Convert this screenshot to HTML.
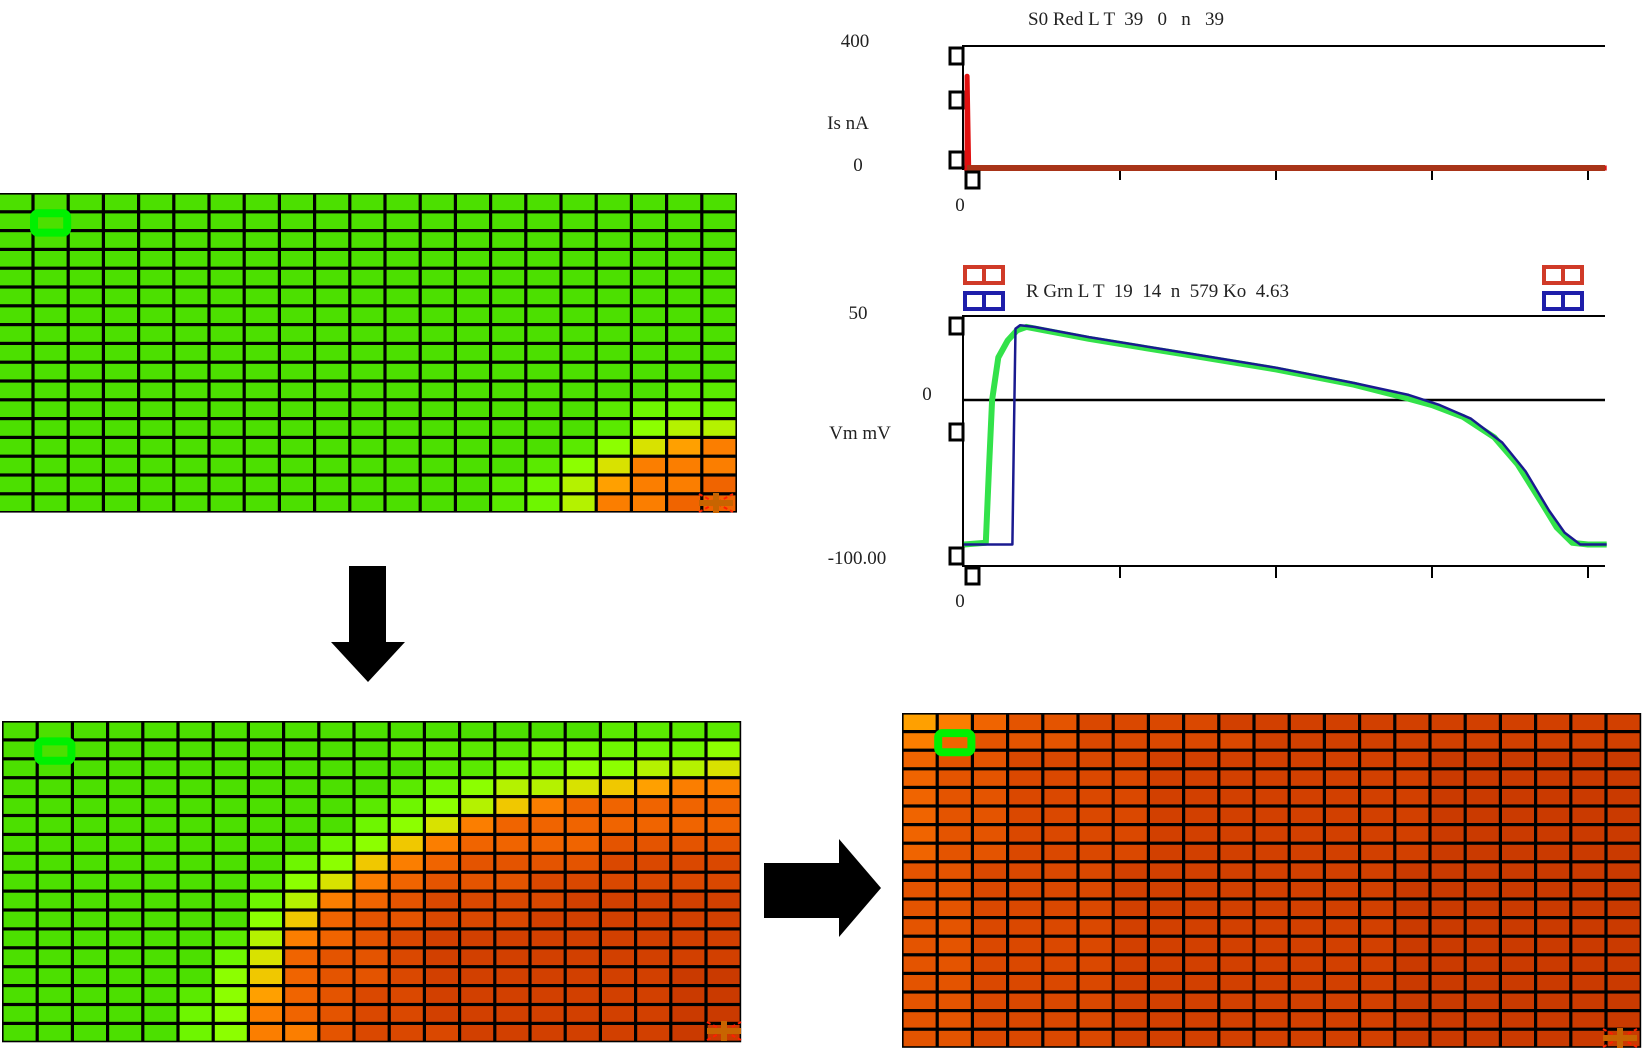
<!DOCTYPE html>
<html><head><meta charset="utf-8"><style>
html,body{margin:0;padding:0;background:#fff;}
svg{display:block;}
text{font-family:"Liberation Serif",serif;fill:#222;}
</style></head><body>
<svg id="root" width="1645" height="1049" viewBox="0 0 1645 1049" xmlns="http://www.w3.org/2000/svg">
<g id="grids"></g>
<g id="arrows">
  <rect x="349" y="566" width="37" height="77" fill="#000"/>
  <polygon points="331,642 405,642 368,682" fill="#000"/>
  <rect x="764" y="863" width="76" height="55" fill="#000"/>
  <polygon points="839,839 839,937 881,888" fill="#000"/>
</g>
<g id="chart1">
  <text x="1028" y="25" font-size="19" style="white-space:pre">S0 Red L T  39   0   n   39</text>
  <text x="855" y="47" font-size="19" text-anchor="middle">400</text>
  <text x="848" y="129" font-size="19" text-anchor="middle">Is nA</text>
  <text x="858" y="171" font-size="19" text-anchor="middle">0</text>
  <text x="960" y="211" font-size="19" text-anchor="middle">0</text>
  <line x1="962" y1="46" x2="1605" y2="46" stroke="#000" stroke-width="2"/>
  <line x1="963" y1="46" x2="963" y2="170" stroke="#000" stroke-width="2"/>
</g>
<g id="chart2">
  <text x="1026" y="297" font-size="19" style="white-space:pre">R Grn L T  19  14  n  579 Ko  4.63</text>
  <text x="858" y="319" font-size="19" text-anchor="middle">50</text>
  <text x="927" y="400" font-size="19" text-anchor="middle">0</text>
  <text x="860" y="439" font-size="19" text-anchor="middle">Vm mV</text>
  <text x="857" y="564" font-size="19" text-anchor="middle">-100.00</text>
  <text x="960" y="607" font-size="19" text-anchor="middle">0</text>
  <line x1="962" y1="316" x2="1605" y2="316" stroke="#000" stroke-width="2"/>
  <line x1="963" y1="316" x2="963" y2="566" stroke="#000" stroke-width="2"/>
  <line x1="962" y1="566" x2="1605" y2="566" stroke="#000" stroke-width="2"/>
  <line x1="963" y1="400" x2="1605" y2="400" stroke="#000" stroke-width="2.5"/>
</g>
</svg>
<script>
// ---------- chart data ----------
const stimT = [0, 2, 2, 3, 412];
const stimV = [0, 0, 301, 0, 0];
const greenT = [0,14,16,18,22,28,34,40,80,140,200,250,280,300,320,340,355,370,380,390,400,412];
const greenV = [-85,-84,-40,0,25,35,41,43,36,27,18,9,2,-3,-10,-22,-38,-60,-75,-84,-85,-85];
const blueT = [0,31,32,33,36,45,80,140,200,250,285,305,325,345,360,375,385,395,405,412];
const blueV = [-85,-85,-20,42,44,43,37,28,19,10,3,-3,-11,-25,-42,-65,-78,-85,-85,-85];
const xTicks = [100, 200, 300, 400];

// ---------- grid data (level per cell) ----------
const gridTL = [
"000000000000000000000","000000000000000000000","000000000000000000000","000000000000000000000",
"000000000000000000000","000000000000000000000","000000000000000000000","000000000000000000000",
"000000000000000000000","000000000000000000000","000000000000000000011","000000000000000001222",
"000000000000000001344","000000000000000013578","000000000000000135888","000000000000001247889",
"000000000000001248899"];
const gridBL = [
"000000000000000001111","000000000001111222223","000000000000112233445","000000000001234456788",
"000000000012346899999","000000000023589999999","00000000023689999aaaa","0000000023689aaaabbbb",
"000000013589aaabbbbbb","00000002489abbbbccccc","0000000369aabbbcccccc","0000001489abccccccccc",
"000000259aabccccccccc","000000369aabcccccccdd","000001379abbcccccccdd","000002389abbcccccccdd",
"000002388abbbccccccdd"];
const gridBR = [
"789aabbbbcccccccccccc","89aaabbbbbccccccccccc","9aabbbbccccccccdddddd","9aabbbbccccccccdddddd",
"9aabbbbccccccccdddddd","9aabbbbccccccccdddddd","9aabbbbccccccccdddddd","9aabbbbccccccccdddddd",
"aabbbbccccccccddddddd","aabbbbccccccccddddddd","aabbbbccccccccddddddd","aabbbbccccccccddddddd",
"aabbbbccccccccddddddd","aabbbbccccccccddddddd","aabbbbccccccccddddddd","aabbbbccccccccddddddd",
"aabbbbccccccccddddddd","aabbbbccccccccddddddd"];
const levelColors = {"0":"#4ce000","1":"#5aea00","2":"#6ef600","3":"#8cff00","4":"#b4f200","5":"#d8e200",
"6":"#f0c800","7":"#ffa000","8":"#fb7e00","9":"#f06400","a":"#e45400","b":"#da4800","c":"#d24000","d":"#ca3a00"};

const NS = "http://www.w3.org/2000/svg";
function mk(tag, attrs, parent){const e=document.createElementNS(NS,tag);for(const k in attrs)e.setAttribute(k,attrs[k]);parent.appendChild(e);return e;}

// ---------- grids ----------
const gridsG = document.getElementById('grids');
function drawGrid(data, x0, y0, cw, rh, name, marker, plus){
  const g = mk('g', {}, gridsG);
  
  
  const rows = data.length, cols = data[0].length;
  const bg = mk('rect', {x:x0, y:y0, width:cols*cw, height:rows*rh, fill:'#000'}, g);
  
  
  for(let r=0;r<rows;r++){
    for(let c=0;c<cols;c++){
      const cell = mk('rect', {x:(x0+c*cw+1.6).toFixed(1), y:(y0+r*rh+1.6).toFixed(1), width:(cw-3.2).toFixed(1), height:(rh-3.2).toFixed(1), fill:levelColors[data[r][c]]}, g);
      
      
    }
  }
  const m = mk('rect', {x:x0+marker[0]*cw+1, y:y0+marker[1]*rh+1.5, width:cw-2, height:rh+0.5, rx:4, fill:'none', stroke:'#00f000', 'stroke-width':8}, g);
  
  
  const p = mk('g', {}, g);
  
  
  mk('line', {x1:plus[0]-17, y1:plus[1]-9, x2:plus[0]+17, y2:plus[1]+9, stroke:'#ff2000', 'stroke-width':2, 'stroke-dasharray':'4 3'}, p);
  mk('line', {x1:plus[0]-17, y1:plus[1]+9, x2:plus[0]+17, y2:plus[1]-9, stroke:'#ff2000', 'stroke-width':2, 'stroke-dasharray':'4 3'}, p);
  mk('rect', {x:plus[0]-17, y:plus[1]-3, width:34, height:6, fill:'#c86400'}, p);
  mk('rect', {x:plus[0]-3, y:plus[1]-10, width:6, height:20, fill:'#c86400'}, p);
}
drawGrid(gridTL, -2.2, 193, 35.2, 18.8, 'grid-early', [1,1], [716,503]);
drawGrid(gridBL, 2, 721, 35.2, 18.9, 'grid-mid', [1,1], [724,1031]);
drawGrid(gridBR, 902, 713, 35.2, 18.6, 'grid-late', [1,1], [1620,1038]);

// ---------- axes ----------
const xOf = t => 964 + t*1.56;
const yTop = v => 168 - v*(122/400);
const yBot = v => 400 - v*1.7;

const c1 = document.getElementById('chart1');
const c2 = document.getElementById('chart2');
function ticks(parent, yAxis){
  xTicks.forEach(t=>{
    const l = mk('line', {x1:xOf(t), y1:yAxis, x2:xOf(t), y2:yAxis+12, stroke:'#000', 'stroke-width':2}, parent);
    
    
  });
}
ticks(c1, 168); ticks(c2, 566);

// stimulus trace
const sp = mk('polyline', {points: stimT.map((t,i)=>xOf(t).toFixed(1)+','+yTop(stimV[i]).toFixed(1)).join(' '), fill:'none', stroke:'#e01010', 'stroke-width':5, 'stroke-linejoin':'round'}, c1);


const base = mk('line', {x1:967, y1:yTop(0), x2:1605, y2:yTop(0), stroke:'#a83418', 'stroke-width':6}, c1);



// Vm traces
const gl = mk('polyline', {points: greenT.map((t,i)=>xOf(t).toFixed(1)+','+yBot(greenV[i]).toFixed(1)).join(' '), fill:'none', stroke:'#33e24a', 'stroke-width':6, 'stroke-linejoin':'round'}, c2);


const bl = mk('polyline', {points: blueT.map((t,i)=>xOf(t).toFixed(1)+','+yBot(blueV[i]).toFixed(1)).join(' '), fill:'none', stroke:'#1a1a90', 'stroke-width':2.5, 'stroke-linejoin':'round'}, c2);



// axis handle squares
function sq(parent, x, y, name){
  const s = mk('rect', {x:x, y:y, width:13, height:16, fill:'#fff', stroke:'#000', 'stroke-width':3}, parent);
  
  
}
sq(c1, 950, 48, 'y-max-handle'); sq(c1, 950, 92, 'y-mid-handle'); sq(c1, 950, 152, 'y-min-handle'); sq(c1, 966, 172, 'x-min-handle');
sq(c2, 950, 318, 'y-max-handle'); sq(c2, 950, 424, 'y-mid-handle'); sq(c2, 950, 548, 'y-min-handle'); sq(c2, 966, 568, 'x-min-handle');

// legend icons
function icon(x, y, color, name){
  const g = mk('g', {}, c2);
  
  
  mk('rect', {x:x+2, y:y+2, width:38, height:16, fill:'#fff', stroke:color, 'stroke-width':4}, g);
  mk('line', {x1:x+21, y1:y, x2:x+21, y2:y+20, stroke:color, 'stroke-width':4}, g);
}
icon(963, 265, '#d03a28', 'legend-red-left'); icon(963, 291, '#1e1eaa', 'legend-blue-left');
icon(1542, 265, '#d03a28', 'legend-red-right'); icon(1542, 291, '#1e1eaa', 'legend-blue-right');
</script>
</body></html>
